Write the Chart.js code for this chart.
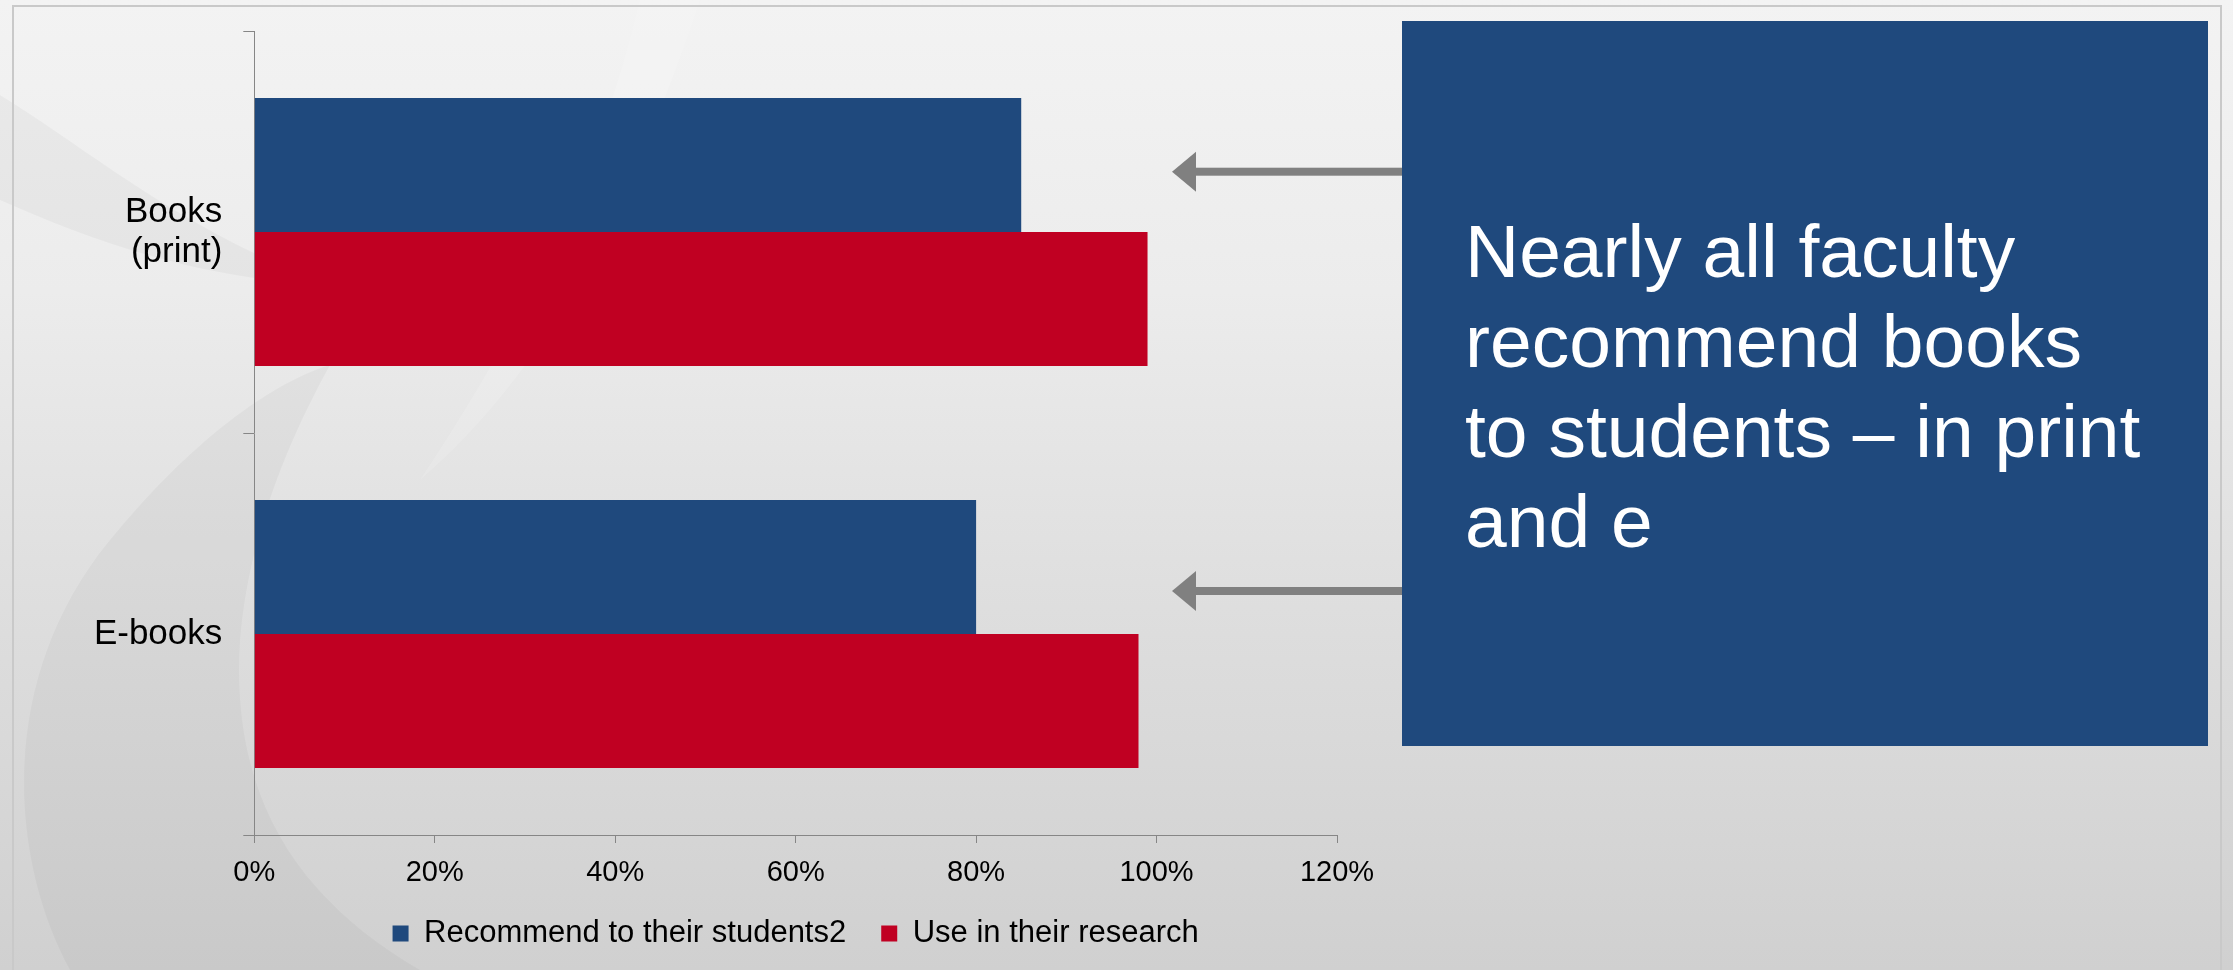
<!DOCTYPE html>
<html>
<head>
<meta charset="utf-8">
<script src="https://cdn.jsdelivr.net/npm/chart.js@4/dist/chart.umd.min.js"></script>
<style>
html,body{margin:0;padding:0;width:2233px;height:970px;overflow:hidden;}
body{position:relative;font-family:'Liberation Sans',Arial,sans-serif;
  background:linear-gradient(to bottom,#f3f3f3 0%,#ececec 30%,#dfdfdf 60%,#d0d0d0 100%);}
#deco{position:absolute;left:0;top:0;}
#frame{position:absolute;left:12px;top:5px;width:2210px;height:1000px;border:2px solid #c9c9c9;box-sizing:border-box;}
#chartWrap{position:absolute;left:0;top:0;width:1400px;height:970px;}
#callout{position:absolute;left:1402px;top:21px;width:806px;height:725px;background:#1f497d;}
#callout .txt{position:absolute;left:63px;top:185px;color:#ffffff;font-size:75px;line-height:90px;white-space:nowrap;font-family:'Liberation Sans',Arial,sans-serif;}
#arrows{position:absolute;left:0;top:0;}
</style>
</head>
<body>
<svg id="deco" width="2233" height="970" viewBox="0 0 2233 970">
  <path d="M0,95 C90,150 180,230 330,285 C200,280 90,240 0,200 Z" fill="#000" fill-opacity="0.03"/>
  <path d="M640,0 L700,0 C640,180 560,360 420,480 C520,330 600,170 640,0 Z" fill="#fff" fill-opacity="0.14"/>
  <path d="M70,970 C10,860 -5,680 110,540 C200,430 280,380 330,365 C300,420 250,520 240,640 C230,800 300,900 420,970 Z" fill="#000" fill-opacity="0.03"/>
</svg>
<div id="frame"></div>
<div id="chartWrap"><canvas id="c" width="1400" height="970"></canvas></div>
<svg id="arrows" width="2233" height="970" viewBox="0 0 2233 970">
  <g fill="#808080">
    <rect x="1195" y="167.7" width="210" height="8"/>
    <polygon points="1172,171.7 1196,151.7 1196,191.7"/>
    <rect x="1195" y="587" width="210" height="8"/>
    <polygon points="1172,591 1196,571 1196,611"/>
  </g>
</svg>
<div id="callout"><div class="txt">Nearly all faculty<br>recommend books<br>to students – in print<br>and e</div></div>
<script>
// ---- data ----
const categories = [["Books", "(print)"], "E-books"];
const seriesNames = ["Recommend to their students2", "Use in their research"];
const recommendValues = [85, 80];
const researchValues = [99, 98];
const xTickMin = 0;
const xTickMax = 120;
const xTickStep = 20;

const FONT = "'Liberation Sans', Arial, sans-serif";
Chart.defaults.font.family = FONT;
Chart.defaults.color = '#000000';

const axisGray = '#868686';

new Chart(document.getElementById('c'), {
  type: 'bar',
  data: {
    labels: categories,
    datasets: [
      { label: seriesNames[0], data: recommendValues, backgroundColor: '#1f497d', borderWidth: 0,
        categoryPercentage: 0.6667, barPercentage: 1.0 },
      { label: seriesNames[1], data: researchValues, backgroundColor: '#c00022', borderWidth: 0,
        categoryPercentage: 0.6667, barPercentage: 1.0 }
    ]
  },
  options: {
    indexAxis: 'y',
    responsive: false,
    animation: false,
    layout: { padding: { top: 31, right: 63, bottom: 11, left: 0 } },
    plugins: {
      tooltip: { enabled: false },
      legend: {
        position: 'bottom',
        fullSize: false,
        labels: {
          boxWidth: 16, boxHeight: 16, padding: 35,
          color: '#000000',
          font: { size: 31, family: FONT }
        }
      }
    },
    scales: {
      x: {
        min: xTickMin, max: xTickMax,
        ticks: { stepSize: xTickStep, color: '#000000', padding: 13,
          font: { size: 29, family: FONT },
          callback: v => v + '%' },
        grid: { drawOnChartArea: false, drawTicks: true, tickLength: 8, color: axisGray, tickColor: axisGray },
        border: { display: true, color: axisGray, width: 1 },
        afterFit: s => { s.height = 48; s.paddingLeft = 0; s.paddingRight = 0; }
      },
      y: {
        offset: true,
        ticks: { color: '#000000', padding: 21, font: { size: 35, family: FONT, lineHeight: 1.15 } },
        grid: { offset: true, drawOnChartArea: false, drawTicks: true, tickLength: 11, color: axisGray, tickColor: axisGray },
        border: { display: true, color: axisGray, width: 1 },
        afterFit: s => { s.width = 254.3; s.paddingTop = 0; s.paddingBottom = 0; }
      }
    }
  }
});
</script>
</body>
</html>
